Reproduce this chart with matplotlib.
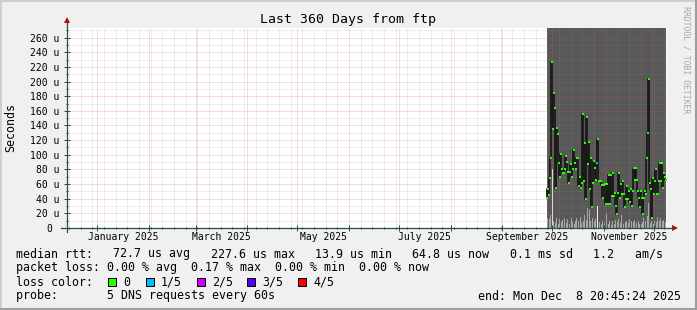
import matplotlib
matplotlib.use("Agg")
import matplotlib.pyplot as plt
import matplotlib.dates as mdates
import matplotlib.transforms as mtrans
import numpy as np
import pandas as pd
from matplotlib.patches import Rectangle, Polygon
from matplotlib.lines import Line2D
from matplotlib.ticker import MultipleLocator, FuncFormatter

# ---------------- data ----------------
title = "Last 360 Days from ftp"
ylabel = "Seconds"
range_start = "2024-12-13 20:45:24"
range_end = "2025-12-08 20:45:24"
data_start = "2025-09-27 14:00"
step = "864min"

# median rtt (microseconds), one value per consolidated step
median_us = [
    41, 53, 45, 68, 95, 226, 135, 184, 164, 55,
    137, 128, 89, 70, 101, 80, 75, 75, 80, 98,
    90, 77, 62, 77, 87, 70, 80, 107, 89, 80,
    96, 96, 57, 70, 55, 62, 156, 64, 116, 39,
    152, 87, 118, 53, 96, 28, 62, 91, 82, 66,
    89, 122, 64, 64, 64, 59, 41, 59, 60, 33,
    60, 33, 73, 33, 73, 44, 75, 44, 48, 30,
    19, 48, 75, 41, 60, 46, 64, 46, 28, 40,
    57, 40, 50, 35, 53, 30, 50, 82, 66, 82,
    65, 50, 41, 28, 50, 41, 19, 41, 50, 46,
    96, 130, 203, 62, 53, 14, 68, 46, 64, 80,
    46, 46, 64, 89, 64, 89, 55, 75, 70, 66,
]
# lost pings (out of 5) per step
loss = [0] * 50 + [1] + [0] * 69
# lower smoke band heights (microseconds)
smoke_low_us = [
    0, 14, 0, 12, 18, 0, 16, 9, 0, 7,
    14, 0, 6, 12, 0, 8, 11, 0, 13, 0,
    7, 12, 0, 6, 0, 14, 8, 0, 5, 9,
    13, 0, 10, 0, 15, 7, 0, 9, 18, 0,
    11, 27, 0, 24, 10, 0, 13, 0, 9, 12,
    0, 10, 0, 8, 0, 6, 9, 0, 7, 0,
    19, 0, 5, 10, 0, 4, 9, 0, 5, 11,
    0, 8, 12, 0, 7, 18, 0, 6, 0, 8,
    10, 0, 7, 12, 0, 9, 0, 8, 11, 0,
    7, 0, 9, 6, 0, 5, 8, 14, 0, 10,
    0, 16, 34, 0, 7, 10, 0, 6, 9, 0,
    8, 15, 0, 10, 13, 0, 9, 11, 0, 8,
]
smoke_peak_us = [0] * 120
smoke_peak_us[6] = 80
smoke_peak_us[51] = 30
y_max_us = 273.1

loss_labels = ["0", "1/5", "2/5", "3/5", "4/5"]
loss_colors = ["#26ff00", "#00b8ff", "#cc00ff", "#5500ff", "#ff0000"]

legend_line1 = ["median rtt:", "72.7 us avg", "227.6 us max", "13.9 us min",
                "64.8 us now", "0.1 ms sd", "1.2   am/s"]
legend_line2 = "packet loss: 0.00 % avg  0.17 % max  0.00 % min  0.00 % now"
legend_line3 = "loss color:"
legend_line4 = "probe:       5 DNS requests every 60s"
end_text = "end: Mon Dec  8 20:45:24 2025"
watermark = "RRDTOOL / TOBI OETIKER"

# ---------------- figure ----------------
W, H = 697, 310
BACK = "#f0f0f0"
MONO = "DejaVu Sans Mono"
plt.rcParams["font.family"] = [MONO, "DejaVu Sans"]

def fx(x):
    return x / W

def fy(y):
    return 1 - y / H

fig = plt.figure(figsize=(W / 100, H / 100), dpi=100, facecolor=BACK)
L, R, T, B = 67, 667, 28, 228
ax = fig.add_axes([fx(L), fy(B), (R - L) / W, (B - T) / H])
ax.set_facecolor("white")

t0 = pd.Timestamp(range_start)
t1 = pd.Timestamp(range_end)
times = pd.date_range(data_start, periods=len(median_us), freq=step)
tnum = mdates.date2num(times.to_pydatetime())
med = np.array(median_us, dtype=float)
step_days = pd.Timedelta(step) / pd.Timedelta("1D")

ax.set_xlim(mdates.date2num(t0.to_pydatetime()), mdates.date2num(t1.to_pydatetime()))
ax.set_ylim(0, y_max_us)

# dark smoke region
ax.fill_between(tnum, 0, y_max_us, step="mid", color="#585858", lw=0, zorder=1)
# lower smoke bars
ax.bar(tnum, smoke_low_us, width=step_days, color="#a8a8a8", lw=0, zorder=1.2)
ax.bar(tnum, smoke_peak_us, width=step_days * 0.8, color="#f4f4f4", lw=0, zorder=1.3)

# median line
ax.plot(tnum, med, drawstyle="steps-mid", color="#1a1a1a", lw=1.3, zorder=3)
for lvl, col in enumerate(loss_colors):
    sel = np.array(loss) == lvl
    if sel.any():
        ax.plot(tnum[sel], med[sel], ls="none", marker="s", ms=2.0, mew=0,
                color=col, zorder=4)

# grid
ax.set_axisbelow(False)
ax.yaxis.set_major_locator(MultipleLocator(20))
ax.yaxis.set_minor_locator(MultipleLocator(10))
ax.xaxis.set_major_locator(mdates.MonthLocator())
ax.xaxis.set_minor_locator(mdates.WeekdayLocator(byweekday=mdates.SU))
dot = (0, (1, 1))
ax.grid(which="major", color="#de5050", alpha=0.4, lw=0.72, ls=dot)
ax.grid(which="minor", color="#8f8f8f", alpha=0.3, lw=0.72, ls=dot)

def ylab(v, pos):
    v = int(round(v))
    return "0 " if v == 0 else f"{v} u"

ax.yaxis.set_major_formatter(FuncFormatter(ylab))
ax.xaxis.set_major_formatter(FuncFormatter(lambda v, p: ""))
AXC = "#2c4d43"
ax.tick_params(axis="y", which="major", direction="inout", length=4, width=0.72,
               color=AXC, pad=3.6, labelsize=7.05)
ax.tick_params(axis="y", which="minor", direction="inout", length=2, width=0.72, color=AXC)
ax.tick_params(axis="x", which="major", direction="inout", length=4, width=0.72, color=AXC)
ax.tick_params(axis="x", which="minor", direction="inout", length=2, width=0.72, color=AXC)
for s in ax.spines.values():
    s.set_visible(False)

# month labels centred in month
trans = mtrans.blended_transform_factory(ax.transData, ax.transAxes)
for m in ["2025-01", "2025-03", "2025-05", "2025-07", "2025-09", "2025-11"]:
    ms = pd.Timestamp(m + "-01")
    me = ms + pd.offsets.MonthBegin(1)
    mid = ms + (me - ms) / 2
    ax.text(mdates.date2num(mid.to_pydatetime()), -9 / (B - T),
            ms.strftime("%B %Y"), transform=trans, ha="center", va="center",
            fontsize=7.05, family=MONO)

# axes lines and arrows
fig.add_artist(Line2D([fx(61), fx(673)], [fy(B), fy(B)], color=AXC, lw=0.9))
fig.add_artist(Line2D([fx(L), fx(L)], [fy(B + 4), fy(21)], color=AXC, lw=0.9))
ARC = "#b01010"
fig.add_artist(Polygon([[fx(672), fy(B - 3)], [fx(678), fy(B)], [fx(672), fy(B + 3)]],
                       closed=True, color=ARC, lw=0))
fig.add_artist(Polygon([[fx(L - 3), fy(23)], [fx(L), fy(17)], [fx(L + 3), fy(23)]],
                       closed=True, color=ARC, lw=0))

# title, ylabel, watermark
fig.text(0.5, fy(19), title, ha="center", va="center", fontsize=9.5, family=MONO)
fig.text(fx(11), fy((T + B) / 2), ylabel, ha="center", va="center", rotation=90,
         fontsize=8.4, family=MONO)
fig.text(fx(686), fy(6), watermark, ha="center", va="top", rotation=270,
         fontsize=5.9, family=MONO, color="#a8a8a8")

# legend
LF = 8.4
CW = 0.602 * LF * 100 / 72   # monospace character width in px
# justified first line
x_left, x_right = 16, 663
nchar = sum(len(c) for c in legend_line1)
gap = (x_right - x_left - nchar * CW) / (len(legend_line1) - 1)
xpos = x_left
for chunk in legend_line1:
    fig.text(fx(xpos), fy(254), chunk, ha="left", va="center", fontsize=LF, family=MONO)
    xpos += len(chunk) * CW + gap
fig.text(fx(16), fy(268), legend_line2, ha="left", va="center", fontsize=LF, family=MONO)
fig.text(fx(16), fy(282), legend_line3, ha="left", va="center", fontsize=LF, family=MONO)
fig.text(fx(16), fy(296), legend_line4, ha="left", va="center", fontsize=LF, family=MONO)
fig.text(fx(681), fy(296), end_text, ha="right", va="center", fontsize=LF, family=MONO)
sq_x = [108, 146, 197, 247, 298]
for xs, lab, col in zip(sq_x, loss_labels, loss_colors):
    fig.add_artist(Rectangle((fx(xs), fy(286)), 8 / W, 8 / H, facecolor=col,
                             edgecolor="black", lw=0.72))
    fig.text(fx(xs + 15), fy(282), lab, ha="left", va="center", fontsize=LF, family=MONO)

# frame shading
fig.add_artist(Line2D([0, 1], [fy(0.5), fy(0.5)], color="#cfcfcf", lw=1.4))
fig.add_artist(Line2D([fx(0.5), fx(0.5)], [0, 1], color="#cfcfcf", lw=1.4))
fig.add_artist(Line2D([0, 1], [fy(H - 1), fy(H - 1)], color="#9e9e9e", lw=2.2))
fig.add_artist(Line2D([fx(W - 1), fx(W - 1)], [0, 1], color="#9e9e9e", lw=2.2))

fig.savefig("out.png", dpi=100, facecolor=BACK)
